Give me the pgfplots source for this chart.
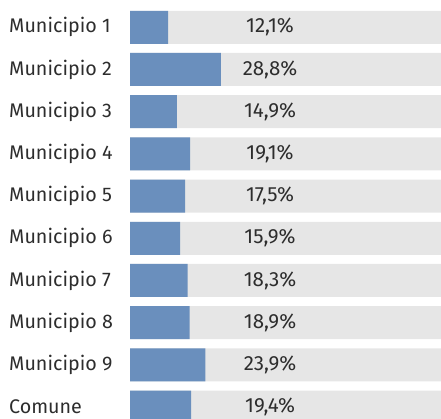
\documentclass[border=0pt]{standalone}
\usepackage{fontspec}
\setmainfont{Fira Sans}
\usepackage{pgfplots}
\pgfplotsset{compat=1.18}
\definecolor{barblue}{RGB}{106,143,189}
\definecolor{bggray}{RGB}{230,230,230}
\definecolor{txt}{RGB}{45,45,45}
\begin{document}
\begin{tikzpicture}
\useasboundingbox (0pt,0pt) rectangle (441pt,-419pt);
\clip (0pt,0pt) rectangle (441pt,-419pt);
\begin{axis}[
  at={(130pt,-6.2pt)}, anchor=north west,
  scale only axis, width=311pt, height=421.9pt,
  xmin=0, xmax=98.6, ymin=-0.5, ymax=9.5, y dir=reverse,
  axis line style={draw=none}, major tick length=0pt,
  xtick=\empty, ytick={0,...,9},
  yticklabels={Municipio 1,Municipio 2,Municipio 3,Municipio 4,Municipio 5,Municipio 6,Municipio 7,Municipio 8,Municipio 9,Comune},
  yticklabel style={anchor=west, xshift=-121pt, inner xsep=0pt, font=\fontsize{19.7}{23}\selectfont, text=txt},
  clip=false,
]
\addplot[xbar, bar width=33pt, bar shift=0pt, fill=bggray, draw=none]
  coordinates {(98.6,0) (98.6,1) (98.6,2) (98.6,3) (98.6,4) (98.6,5) (98.6,6) (98.6,7) (98.6,8) (98.6,9)};
\addplot[xbar, bar width=33pt, bar shift=0pt, fill=barblue, draw=none]
  coordinates {(12.1,0) (28.8,1) (14.9,2) (19.1,3) (17.5,4) (15.9,5) (18.3,6) (18.9,7) (23.9,8) (19.4,9)};
\addplot[only marks, mark=none, nodes near coords, point meta=explicit symbolic,
  nodes near coords align={center},
  every node near coord/.append style={anchor=center, font=\fontsize{20.5}{24}\selectfont, text=txt}]
  table[meta=l] {
x y l
44.4 0 12,1\%
44.4 1 28,8\%
44.4 2 14,9\%
44.4 3 19,1\%
44.4 4 17,5\%
44.4 5 15,9\%
44.4 6 18,3\%
44.4 7 18,9\%
44.4 8 23,9\%
44.4 9 19,4\%
};
\end{axis}
\end{tikzpicture}
\end{document}
